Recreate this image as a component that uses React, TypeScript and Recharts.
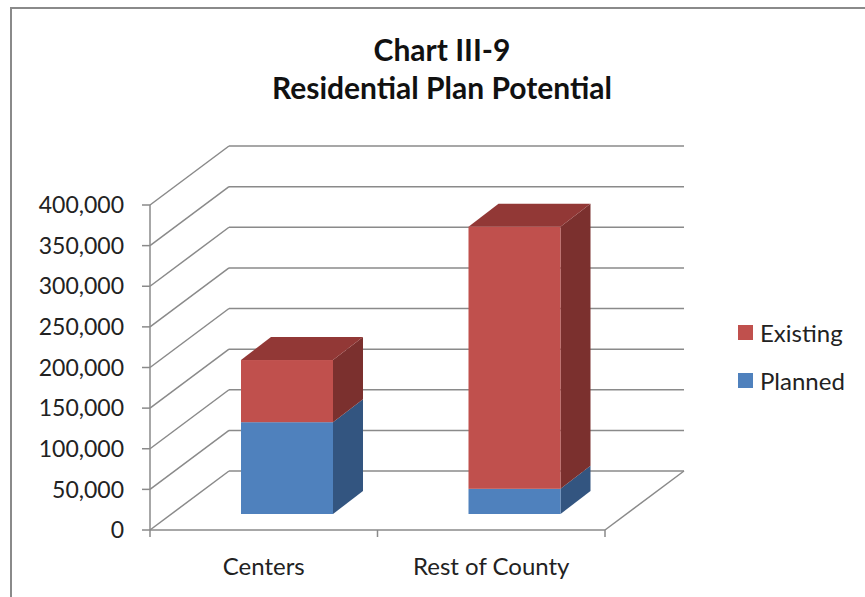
import React from "react";
import { BarChart, Bar, XAxis, YAxis, CartesianGrid } from "recharts";

const categories = ["Centers", "Rest of County"];
const planned = [113000, 31000];
const existing = [76500, 322500];
const yTicks = [0, 50000, 100000, 150000, 200000, 250000, 300000, 350000, 400000];
const legendItems = [
  { label: "Existing", color: "#C0504D" },
  { label: "Planned", color: "#4F81BD" },
];

const data = categories.map((name, i) => ({
  name,
  Planned: planned[i],
  Existing: existing[i],
}));

const FONT = "Lato, 'DejaVu Sans', sans-serif";
const GRID = "#8a8a8a";

// oblique 3D look: back wall offset and bar depth
const WALL_DX = 79;
const WALL_DY = -59;
const BAR_SHIFT_X = 23;
const BAR_SHIFT_Y = -16;
const BAR_DX = 30;
const BAR_DY = -23;

function makeShape(front: string, side: string, top: string, withTop: boolean) {
  return (props: any) => {
    const { x, y, width, height } = props;
    if (!height || height <= 0) return <g />;
    const fx = x + BAR_SHIFT_X;
    const fy = y + BAR_SHIFT_Y;
    const sidePts = [
      [fx + width, fy],
      [fx + width + BAR_DX, fy + BAR_DY],
      [fx + width + BAR_DX, fy + height + BAR_DY],
      [fx + width, fy + height],
    ]
      .map((p) => p.join(","))
      .join(" ");
    const topPts = [
      [fx, fy],
      [fx + BAR_DX, fy + BAR_DY],
      [fx + width + BAR_DX, fy + BAR_DY],
      [fx + width, fy],
    ]
      .map((p) => p.join(","))
      .join(" ");
    return (
      <g>
        <polygon points={sidePts} fill={side} />
        {withTop && <polygon points={topPts} fill={top} />}
        <rect x={fx} y={fy} width={width} height={height} fill={front} />
      </g>
    );
  };
}

function GridLine(props: any) {
  const { x1, x2, y1, index } = props;
  return (
    <g>
      <line x1={x1} y1={y1} x2={x1 + WALL_DX} y2={y1 + WALL_DY} stroke={GRID} strokeWidth={1.5} />
      <line x1={x1 + WALL_DX} y1={y1 + WALL_DY} x2={x2 + WALL_DX} y2={y1 + WALL_DY} stroke={GRID} strokeWidth={1.5} />
      {index === 0 && (
        <g>
          <line x1={x2} y1={y1} x2={x2 + WALL_DX} y2={y1 + WALL_DY} stroke={GRID} strokeWidth={1.5} />
          {[x1, (x1 + x2) / 2, x2].map((tx) => (
            <line key={tx} x1={tx} y1={y1} x2={tx} y2={y1 + 7} stroke={GRID} strokeWidth={1.5} />
          ))}
        </g>
      )}
    </g>
  );
}

export default function App() {
  return (
    <div style={{ position: "absolute", left: 0, top: 0, width: 865, height: 597, overflow: "hidden", background: "#fff" }}>
      <div
        style={{
          position: "absolute",
          left: 10,
          top: 7,
          width: 900,
          height: 700,
          border: "2px solid #8a8a8a",
        }}
      />
      <div
        style={{
          position: "absolute",
          left: 0,
          width: 884,
          top: 30,
          textAlign: "center",
          fontFamily: FONT,
          fontWeight: 700,
          fontSize: 30,
          lineHeight: "38px",
          color: "#111",
        }}
      >
        <div>Chart III-9</div>
        <div>Residential Plan Potential</div>
      </div>
      <div style={{ position: "absolute", left: 0, top: 0 }}>
        <BarChart
          width={865}
          height={597}
          data={data}
          margin={{ top: 205, right: 260, bottom: 0, left: 0 }}
          barSize={92}
        >
          <CartesianGrid horizontal={(p: any) => <GridLine {...p} />} vertical={false} />
          <XAxis
            dataKey="name"
            height={67}
            axisLine={{ stroke: GRID, strokeWidth: 1.5 }}
            tickLine={false}
            tick={{ fill: "#222", fontSize: 24, fontFamily: FONT }}
            tickMargin={22}
          />
          <YAxis
            domain={[0, 400000]}
            ticks={yTicks}
            interval={0}
            axisLine={{ stroke: GRID, strokeWidth: 1.5 }}
            tickLine={{ stroke: GRID, strokeWidth: 1.5 }}
            tickSize={8}
            tickMargin={18}
            tickFormatter={(v: number) => v.toLocaleString("en-US")}
            tick={{ fill: "#222", fontSize: 23, fontFamily: FONT }}
            width={150}
          />
          <Bar
            dataKey="Planned"
            stackId="a"
            fill="#4F81BD"
            isAnimationActive={false}
            shape={makeShape("#4F81BD", "#335580", "#3B6396", false)}
          />
          <Bar
            dataKey="Existing"
            stackId="a"
            fill="#C0504D"
            isAnimationActive={false}
            shape={makeShape("#C0504D", "#7B302E", "#923836", true)}
          />
        </BarChart>
      </div>
      <div style={{ position: "absolute", left: 738, top: 308, fontFamily: FONT }}>
        {legendItems.map((it) => (
          <div key={it.label} style={{ display: "flex", alignItems: "center", height: 48 }}>
            <span style={{ width: 15, height: 15, background: it.color, display: "inline-block", marginRight: 7 }} />
            <span style={{ fontSize: 24, color: "#222" }}>{it.label}</span>
          </div>
        ))}
      </div>
    </div>
  );
}
